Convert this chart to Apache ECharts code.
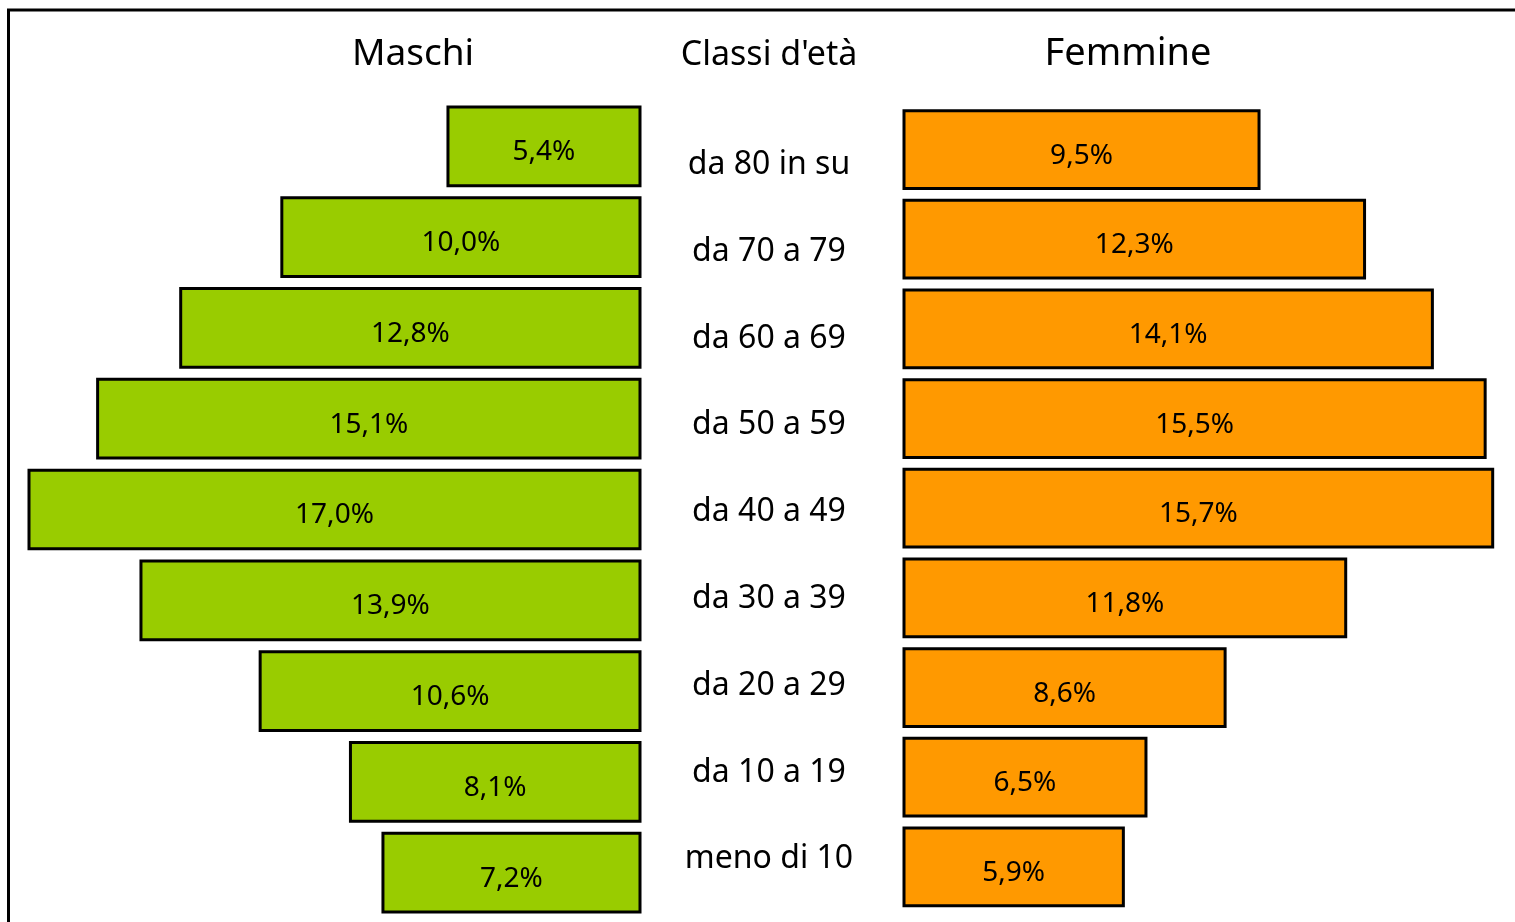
<!DOCTYPE html>
<html>
<head>
<meta charset="utf-8">
<script src="https://cdn.jsdelivr.net/npm/echarts@6/dist/echarts.min.js"></script>
<style>
html,body{margin:0;padding:0;background:#fff;}
#c{width:1515px;height:922px;}
</style>
</head>
<body>
<div id="c"></div>
<script>
const categories = ['da 80 in su','da 70 a 79','da 60 a 69','da 50 a 59','da 40 a 49','da 30 a 39','da 20 a 29','da 10 a 19','meno di 10'];
const maschi = [5.4, 10.0, 12.8, 15.1, 17.0, 13.9, 10.6, 8.1, 7.2];
const femmine = [9.5, 12.3, 14.1, 15.5, 15.7, 11.8, 8.6, 6.5, 5.9];
const titles = ['Maschi', "Classi d'età", 'Femmine'];

const FONT = '"Noto Sans", "Open Sans", sans-serif';
const fmt = p => p.value.toFixed(1).replace('.', ',') + '%';

const chart = echarts.init(document.getElementById('c'));
chart.setOption({
  animation: false,
  backgroundColor: '#fff',
  grid: [
    {left: 27.5, width: 614, top: 101, height: 817},
    {left: 902.5, width: 603, top: 104.7, height: 807},
    {left: 769, width: 1, top: 121.6, height: 781}
  ],
  xAxis: [
    {gridIndex: 0, type: 'value', min: 0, max: 17, inverse: true, show: false},
    {gridIndex: 1, type: 'value', min: 0, max: 16, show: false},
    {gridIndex: 2, type: 'value', min: 0, max: 1, show: false}
  ],
  yAxis: [
    {gridIndex: 0, type: 'category', data: categories, inverse: true, show: false},
    {gridIndex: 1, type: 'category', data: categories, inverse: true, show: false},
    {gridIndex: 2, type: 'category', data: categories, inverse: true,
     axisLine: {show: false}, axisTick: {show: false}, splitLine: {show: false},
     axisLabel: {show: true, align: 'center', margin: 0, fontFamily: FONT, fontSize: 32, color: '#000'}}
  ],
  series: [
    {type: 'bar', xAxisIndex: 0, yAxisIndex: 0, data: maschi, barCategoryGap: '10%',
     itemStyle: {color: '#99CC00', borderColor: '#000', borderWidth: 3},
     label: {show: true, position: 'inside', formatter: fmt, fontFamily: FONT, fontSize: 28, color: '#000', offset: [0, 6]}},
    {type: 'bar', xAxisIndex: 1, yAxisIndex: 1, data: femmine, barCategoryGap: '10%',
     itemStyle: {color: '#FF9900', borderColor: '#000', borderWidth: 3},
     label: {show: true, position: 'inside', formatter: fmt, fontFamily: FONT, fontSize: 28, color: '#000', offset: [0, 6]}}
  ],
  graphic: [
    {type: 'rect', shape: {x: 8.5, y: 10, width: 1600, height: 1000}, style: {fill: 'none', stroke: '#000', lineWidth: 3}, silent: true},
    {type: 'text', x: 413, y: 54, style: {text: titles[0], fontFamily: FONT, fontSize: 37, fill: '#000', textAlign: 'center', textVerticalAlign: 'middle'}},
    {type: 'text', x: 769, y: 55, style: {text: titles[1], fontFamily: FONT, fontSize: 34, fill: '#000', textAlign: 'center', textVerticalAlign: 'middle'}},
    {type: 'text', x: 1128, y: 54, style: {text: titles[2], fontFamily: FONT, fontSize: 38, fill: '#000', textAlign: 'center', textVerticalAlign: 'middle'}}
  ]
});
</script>
</body>
</html>
